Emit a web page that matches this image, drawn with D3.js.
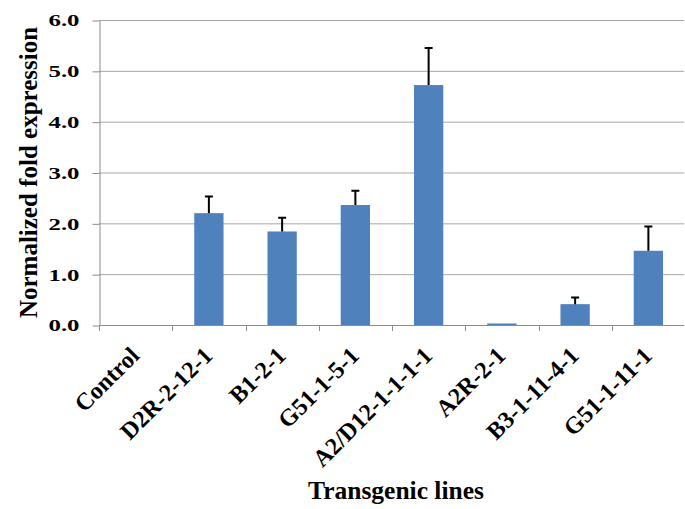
<!DOCTYPE html>
<html>
<head>
<meta charset="utf-8">
<script src="https://cdn.jsdelivr.net/npm/d3@7"></script>
<style>
  body { margin: 0; background: #fff; }
  text { font-family: "Liberation Serif", "Times New Roman", serif; font-weight: bold; }
</style>
</head>
<body>
<div class="chart_container"></div>
<script>
// data
var lines = ["Control", "D2R-2-12-1", "B1-2-1", "G51-1-5-1", "A2/D12-1-1-1-1", "A2R-2-1", "B3-1-11-4-1", "G51-1-11-1"];
var expression = [0, 2.20, 1.84, 2.36, 4.72, 0.03, 0.41, 1.46];
var errors = [0, 0.33, 0.27, 0.28, 0.73, 0, 0.13, 0.48];
var y_ticks = [0, 1, 2, 3, 4, 5, 6];

var data = lines.map((d, i) => ({line: d, value: expression[i], err: errors[i]}));

var w = 685
var h = 509
var p_left = 99, p_right = 685, p_top = 20, p_bottom = 325;

var svg = d3.select('.chart_container')
            .append('svg')
            .attr('width', w)
            .attr('height', h);

//scales
var x_scale = d3.scaleBand()
                .domain(lines)
                .range([p_left, p_right]);
var y_scale = d3.scaleLinear()
                .domain([0, 6])
                .range([p_bottom, p_top]);

//gridlines
svg.selectAll('.grid')
    .data(y_ticks)
    .enter()
    .append('line')
    .attr('class', 'grid')
    .attr('x1', p_left)
    .attr('x2', p_right - 1)
    .attr('y1', d => y_scale(d) + 0.5)
    .attr('y2', d => y_scale(d) + 0.5)
    .attr('stroke', '#a6a6a6')
    .attr('stroke-width', 1);

//y axis
var y_axis = d3.axisLeft(y_scale)
                .tickValues(y_ticks)
                .tickFormat(d3.format('.1f'))
                .tickSize(7)
                .tickSizeOuter(0);
var y_g = svg.append('g')
    .attr('transform', 'translate(' + (p_left + 0.5) + ',0.5)')
    .call(y_axis);
y_g.select('.domain').attr('stroke', '#8c8c8c');
y_g.selectAll('.tick line').attr('stroke', '#8c8c8c');
y_g.selectAll('text')
    .attr('x', -20)
    .style('font-size', '17px')
    .attr('textLength', 31)
    .attr('lengthAdjust', 'spacingAndGlyphs')
    .attr('fill', '#000')
    .style('font-family', '"Liberation Serif", serif');

//x axis line + ticks at category boundaries
svg.append('line')
    .attr('x1', p_left)
    .attr('x2', p_right - 1)
    .attr('y1', p_bottom + 0.5)
    .attr('y2', p_bottom + 0.5)
    .attr('stroke', '#8c8c8c');
svg.selectAll('.xtick')
    .data(lines)
    .enter()
    .append('line')
    .attr('class', 'xtick')
    .attr('x1', d => Math.round(x_scale(d)) + 0.5)
    .attr('x2', d => Math.round(x_scale(d)) + 0.5)
    .attr('y1', p_bottom)
    .attr('y2', p_bottom + 6)
    .attr('stroke', '#8c8c8c');

//x labels, rotated
svg.selectAll('.xlabel')
    .data(lines)
    .enter()
    .append('text')
    .attr('class', 'xlabel')
    .attr('transform', d => 'translate(' + (x_scale(d) + x_scale.bandwidth() / 2 + 5) + ',357) rotate(-45)')
    .style('text-anchor', 'end')
    .style('font-size', '24px')
    .text(d => d);

//bars
var bar_w = x_scale.bandwidth() * 0.4;
var bars = svg.selectAll('.bar')
    .data(data)
    .enter()
    .append('g')
    .attr('class', 'bar');

bars.append('rect')
    .attr('x', d => x_scale(d.line) + (x_scale.bandwidth() - bar_w) / 2)
    .attr('y', d => y_scale(d.value))
    .attr('width', bar_w)
    .attr('height', d => p_bottom - y_scale(d.value))
    .style('fill', '#4f81bd');

//error bars, upper half only
var cap = 8;
var err_data = data.filter(d => d.err > 0);
svg.selectAll('.err')
    .data(err_data)
    .enter()
    .append('path')
    .attr('class', 'err')
    .attr('d', function(d){
        var cx = x_scale(d.line) + x_scale.bandwidth() / 2;
        var y0 = y_scale(d.value);
        var y1 = y_scale(d.value + d.err);
        return d3.line()([[cx, y0], [cx, y1]]) + 'M' + (cx - cap / 2) + ',' + y1 + 'H' + (cx + cap / 2);
    })
    .attr('stroke', '#000')
    .attr('stroke-width', 2)
    .attr('fill', 'none');

//axis titles
svg.append('text')
    .attr('transform', 'translate(37,' + ((p_top + p_bottom) / 2) + ') rotate(-90)')
    .style('text-anchor', 'middle')
    .style('font-size', '25px')
    .text('Normalized fold expression');

svg.append('text')
    .attr('x', 396)
    .attr('y', 499)
    .style('text-anchor', 'middle')
    .style('font-size', '25.5px')
    .text('Transgenic lines');
</script>
</body>
</html>
